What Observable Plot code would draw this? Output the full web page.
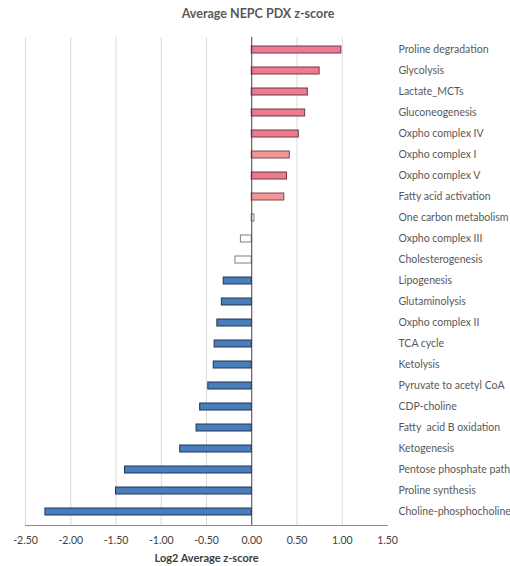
<!DOCTYPE html>
<html>
<head>
<meta charset="utf-8">
<script src="https://cdn.jsdelivr.net/npm/d3@7"></script>
<script src="https://cdn.jsdelivr.net/npm/@observablehq/plot@0.6"></script>
<style>
  html, body { margin: 0; padding: 0; background: #fff; }
  #wrap { width: 510px; font-family: Lato, "Open Sans", sans-serif; }
  #title { height: 28px; line-height: 28px; text-align: center; font-size: 12.5px; font-weight: bold; color: #595959; padding-left: 6px; box-sizing: border-box; }
</style>
</head>
<body>
<div id="wrap">
  <div id="title">Average NEPC PDX z-score</div>
  <div id="chart"></div>
</div>
<script>
const pathways = [
  "Proline degradation", "Glycolysis", "Lactate_MCTs", "Gluconeogenesis",
  "Oxpho complex IV", "Oxpho complex I", "Oxpho complex V", "Fatty acid activation",
  "One carbon metabolism", "Oxpho complex III", "Cholesterogenesis", "Lipogenesis",
  "Glutaminolysis", "Oxpho complex II", "TCA cycle", "Ketolysis",
  "Pyruvate to acetyl CoA", "CDP-choline", "Fatty  acid B oxidation", "Ketogenesis",
  "Pentose phosphate path", "Proline synthesis", "Choline-phosphocholine"
];
const scores = [
  0.99, 0.75, 0.62, 0.59,
  0.52, 0.42, 0.39, 0.36,
  0.03, -0.12, -0.18, -0.31,
  -0.33, -0.38, -0.41, -0.42,
  -0.48, -0.57, -0.61, -0.79,
  -1.40, -1.50, -2.28
];
const groups = [
  "up", "up", "up", "up",
  "up", "up2", "up", "up2",
  "ns", "ns", "ns", "down",
  "down", "down", "down", "down",
  "down", "down", "down", "down",
  "down", "down", "down"
];
const xTicks = [-2.5, -2.0, -1.5, -1.0, -0.5, 0, 0.5, 1.0, 1.5];
const gridTicks = [-2.5, -2.0, -1.5, -1.0, -0.5, 0.5, 1.0];

const fills = {up: "#EF7A8F", up2: "#F3959A", ns: "#FFFFFF", down: "#4A7EBB"};
const strokes = {up: "#6b3a44", up2: "#7a4a4e", ns: "#7f7f7f", down: "#1f3550"};

const data = pathways.map((p, i) => ({pathway: p, score: scores[i], group: groups[i]}));

const chart = Plot.plot({
  width: 510,
  height: 538,
  marginTop: 9,
  marginBottom: 41,
  marginLeft: 25,
  marginRight: 123,
  style: {fontFamily: "Lato, 'Open Sans', sans-serif", background: "#fff"},
  x: {domain: [-2.5, 1.5], ticks: xTicks, tickFormat: d => d.toFixed(2)},
  y: {domain: pathways, paddingInner: 0.65, paddingOuter: 0.325},
  marks: [
    Plot.ruleX(gridTicks, {stroke: "#d9d9d9", strokeWidth: 1}),
    Plot.barX(data, {
      x: "score", y: "pathway",
      fill: d => fills[d.group],
      stroke: d => strokes[d.group],
      strokeWidth: 1
    }),
    Plot.ruleX([0], {stroke: "#404040", strokeWidth: 1}),
    Plot.frame({anchor: "bottom", stroke: "#8c8c8c"}),
    Plot.axisX({
      ticks: xTicks, tickFormat: d => d.toFixed(2), tickSize: 0, tickPadding: 11,
      fontSize: 10.5, color: "#404040",
      label: "Log2 Average z-score", labelAnchor: "center", labelArrow: "none", labelOffset: 36
    }),
    Plot.axisY({anchor: "right", tickSize: 0, tickPadding: 11, fontSize: 10.5, color: "#595959", label: null})
  ]
});

const svg = d3.select(chart);
svg.selectAll("[aria-label='x-axis label'] text").style("font-weight", "bold").style("font-size", "11px").attr("fill", "#404040");
document.getElementById("chart").appendChild(chart);
</script>
</body>
</html>
